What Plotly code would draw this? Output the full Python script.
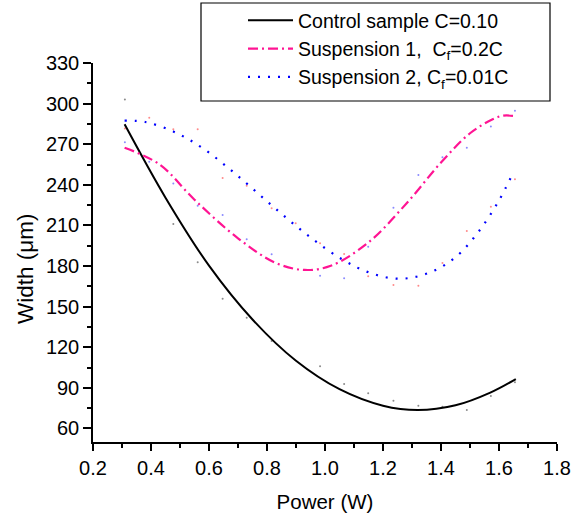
import plotly.graph_objects as go

# Fitted curves
ctrl_x = [0.309, 0.45, 0.60, 0.75, 0.90, 1.05, 1.20, 1.32, 1.45, 1.57, 1.658]
ctrl_y = [284.7, 230.5, 180.3, 140.5, 110.0, 89.0, 76.8, 73.6, 77.1, 86.5, 96.5]

s1_x = [0.309, 0.43, 0.55, 0.70, 0.83, 0.93, 1.02, 1.15, 1.28, 1.40, 1.50, 1.58, 1.615, 1.655]
s1_y = [267.4, 255.0, 229.0, 200.5, 182.3, 177.1, 180.2, 197.5, 226.0, 256.5, 278.1, 288.6, 291.1, 290.8]

s2_x = [0.309, 0.38, 0.48, 0.58, 0.70, 0.82, 0.94, 1.06, 1.16, 1.26, 1.36, 1.45, 1.53, 1.60, 1.647]
s2_y = [287.4, 286.4, 279.1, 266.8, 246.5, 224.1, 202.8, 184.8, 174.6, 170.6, 175.1, 186.5, 205.5, 228.5, 248.2]

raw_x = [0.31, 0.394, 0.477, 0.561, 0.647, 0.730, 0.816, 0.899, 0.983, 1.066, 1.149, 1.236,
         1.322, 1.405, 1.489, 1.572, 1.655]
raw_gray = [303, None, 211, 182.8, 155.9, 141.8, 124.6, None, 105.9, 92.8, 86.0, 80.5,
            76.8, 76.1, 73.6, 84.0, 94.1]
raw_blue = [271.4, 257, 241, 224.6, 217.7, 199.8, 188.7, None, 172.9, 171, 194.3, 223.1,
            247.3, 260.3, 267.4, 283, 294.8]
raw_red = [281.7, 289.6, 281, 281, 245, 239.3, 222.6, 211.6, 196.8, 188.9, 172.4, 166,
           165.5, 182.2, 205.9, 223.8, 244.1]

names = ["Control sample C=0.10", "Suspension 1,  C<sub>f</sub>=0.2C", "Suspension 2, C<sub>f</sub>=0.01C"]
x_ticks = [0.2, 0.4, 0.6, 0.8, 1.0, 1.2, 1.4, 1.6, 1.8]
y_ticks = [60, 90, 120, 150, 180, 210, 240, 270, 300, 330]
y_title = "Width (μm)"
x_title = "Power (W)"

FONT = "Liberation Sans, Arial, sans-serif"
fig = go.Figure()

for ys, col in [(raw_gray, "rgba(90,90,90,0.7)"), (raw_blue, "rgba(60,60,255,0.6)"),
                (raw_red, "rgba(255,60,60,0.6)")]:
    fig.add_trace(go.Scatter(x=raw_x, y=ys, mode="markers", showlegend=False,
                             marker=dict(size=2, color=col, line=dict(width=0)),
                             hoverinfo="skip"))

fig.add_trace(go.Scatter(x=ctrl_x, y=ctrl_y, mode="lines", name=names[0], legendgroup="a",
                         line=dict(color="black", width=2, shape="spline", smoothing=1.0)))
fig.add_trace(go.Scatter(x=s1_x, y=s1_y, mode="lines", name=names[1], legendgroup="b",
                         line=dict(color="#ff1493", width=2.2, shape="spline", smoothing=1.0,
                                   dash="10px,4px,2px,4px")))
fig.add_trace(go.Scatter(x=s2_x, y=s2_y, mode="lines", name=names[2], legendgroup="c",
                         line=dict(color="#0000ff", width=2.2, shape="spline", smoothing=1.0,
                                   dash="2px,8px")))

fig.update_layout(
    width=571, height=517,
    margin=dict(l=93, r=14, t=63, b=75, autoexpand=False),
    paper_bgcolor="white", plot_bgcolor="white",
    font=dict(family=FONT, size=20, color="black"),
    showlegend=True,
    legend=dict(x=(243 - 93) / 464, y=1 + (63 - 1) / 379, xanchor="left", yanchor="top",
                bgcolor="rgba(0,0,0,0)", borderwidth=0, itemwidth=45,
                font=dict(family=FONT, size=19.5), tracegroupgap=0,
                traceorder="grouped"),
    shapes=[dict(type="rect", xref="paper", yref="paper",
                 x0=(201 - 93) / 464, x1=(550 - 93) / 464,
                 y0=1 + (63 - 101) / 379, y1=1 + (63 - 3) / 379,
                 line=dict(color="black", width=1.2), fillcolor="rgba(0,0,0,0)")],
    annotations=[dict(text=y_title, xref="paper", yref="paper",
                      x=(25 - 93) / 464, y=1 - (269 - 63) / 379,
                      xanchor="center", yanchor="middle", textangle=-90, showarrow=False,
                      font=dict(family=FONT, size=22.5, color="black"))],
)

fig.update_xaxes(range=[0.2, 1.8], tickvals=x_ticks, ticktext=[f"{v:.1f}" for v in x_ticks],
                 showline=True, linecolor="black", linewidth=1.5, mirror=False,
                 ticks="outside", ticklen=7, tickwidth=1.5, tickcolor="black",
                 minor=dict(dtick=0.1, tick0=0.2, ticks="outside", ticklen=4, tickwidth=1.5, tickcolor="black"),
                 showgrid=False, zeroline=False,
                 tickfont=dict(size=20),
                 title=dict(text=x_title, font=dict(size=20.5), standoff=17))
fig.update_yaxes(range=[50, 330], tickvals=y_ticks,
                 showline=True, linecolor="black", linewidth=1.5, mirror=False,
                 ticks="outside", ticklen=8, tickwidth=1.5, tickcolor="black",
                 minor=dict(dtick=15, tick0=60, ticks="outside", ticklen=4, tickwidth=1.5, tickcolor="black"),
                 showgrid=False, zeroline=False,
                 tickfont=dict(size=20))

fig.write_html("out.html")
